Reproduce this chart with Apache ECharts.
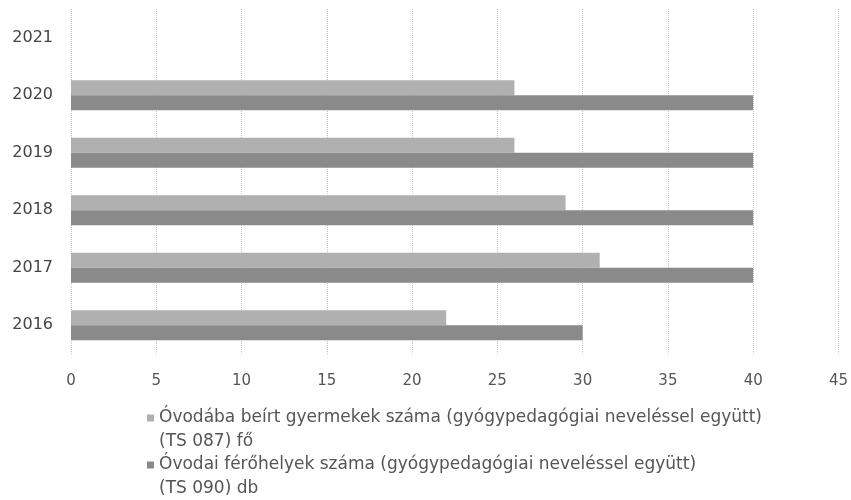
<!DOCTYPE html>
<html>
<head>
<meta charset="utf-8">
<script src="https://cdn.jsdelivr.net/npm/echarts@6/dist/echarts.min.js"></script>
<style>
	html, body { margin: 0; padding: 0; background: #fff; }
	#chart { width: 851px; height: 500px; }
</style>
</head>
<body>
<div id="chart"></div>
<script>
	// categories (bottom to top)
	var years = ['2016', '2017', '2018', '2019', '2020', '2021']
	// Óvodába beírt gyermekek száma (TS 087) fő
	var enrolled = [22, 31, 29, 26, 26, null]
	// Óvodai férőhelyek száma (TS 090) db
	var places = [30, 40, 40, 40, 40, null]
	var xTicks = [0, 5, 10, 15, 20, 25, 30, 35, 40, 45]

	var nameEnrolled = 'Óvodába beírt gyermekek száma (gyógypedagógiai neveléssel együtt)\n(TS 087) fő'
	var namePlaces = 'Óvodai férőhelyek száma (gyógypedagógiai neveléssel együtt)\n(TS 090) db'

	var font = 'DejaVu Sans'

	// square next to the first of the two text lines (the extra points only stretch the box)
	var legendIcon = 'path://M0 0L0 0M7 48L7 48M0 8.5H7V15.5H0Z'

	function legendFor(name, top) {
		return {
			data: [name],
			left: 147,
			top: top,
			padding: 0,
			itemWidth: 7,
			itemHeight: 48,
			icon: legendIcon,
			selectedMode: false,
			textStyle: {
				color: '#555',
				fontFamily: font,
				fontSize: 17,
				lineHeight: 24
			}
		}
	}

	var chart = echarts.init(document.getElementById('chart'), null, { renderer: 'canvas' })
	chart.setOption({
		animation: false,
		grid: {
			left: 71,
			right: 9,
			top: 9,
			height: 345
		},
		legend: [legendFor(nameEnrolled, 406), legendFor(namePlaces, 453)],
		xAxis: {
			type: 'value',
			min: xTicks[0],
			max: xTicks[xTicks.length - 1],
			interval: 5,
			axisLine: { show: false },
			axisTick: { show: false },
			axisLabel: {
				margin: 20,
				color: '#555',
				fontFamily: font,
				fontSize: 15
			},
			splitLine: {
				show: true,
				lineStyle: { type: 'dotted', color: '#c4c4c4', width: 1 }
			}
		},
		yAxis: {
			type: 'category',
			data: years,
			axisLine: { show: false },
			axisTick: { show: false },
			axisLabel: {
				margin: 18,
				color: '#444',
				fontFamily: font,
				fontSize: 16
			}
		},
		series: [{
			name: nameEnrolled,
			type: 'bar',
			data: enrolled,
			barGap: '0%',
			barCategoryGap: '48%',
			itemStyle: { color: '#b0b0b0' }
		}, {
			name: namePlaces,
			type: 'bar',
			data: places,
			barGap: '0%',
			barCategoryGap: '48%',
			itemStyle: { color: '#8a8a8a' }
		}]
	})
</script>
</body>
</html>
